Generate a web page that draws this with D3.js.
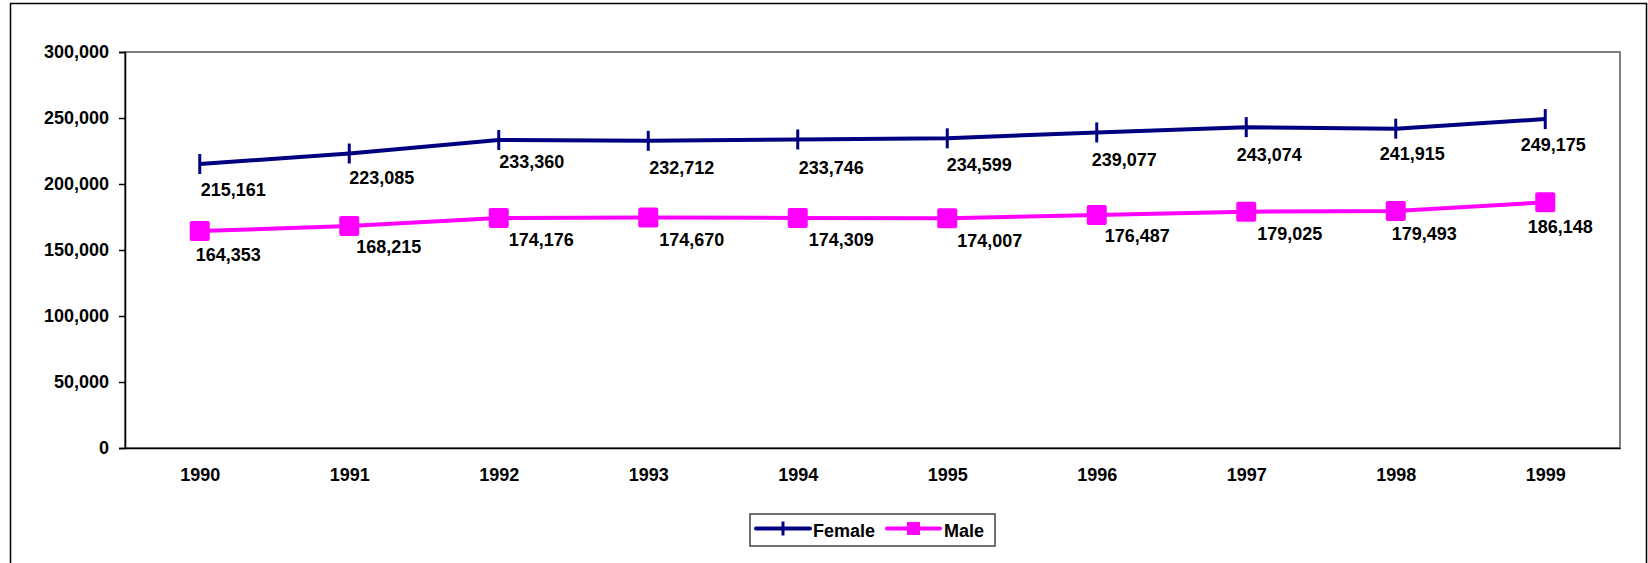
<!DOCTYPE html>
<html>
<head>
<meta charset="utf-8">
<script src="https://cdn.jsdelivr.net/npm/d3@7"></script>
<style>
  html, body { margin: 0; padding: 0; background: #fff; }
  svg { display: block; }
  text { font-family: "Liberation Sans", Arial, sans-serif; font-weight: bold; fill: #000; }
</style>
</head>
<body>
<script>
// ---- data ----
const years = ["1990","1991","1992","1993","1994","1995","1996","1997","1998","1999"];
const female = [215161, 223085, 233360, 232712, 233746, 234599, 239077, 243074, 241915, 249175];
const male = [164353, 168215, 174176, 174670, 174309, 174007, 176487, 179025, 179493, 186148];
const yTicks = [0, 50000, 100000, 150000, 200000, 250000, 300000];
const seriesNames = ["Female", "Male"];

// ---- layout (label nudges, as placed in the original) ----
const femaleLabelDx = [1, 0, 0.5, 1, 1, -0.5, -5, -9.5, -16, -24.5];
const femaleLabelDy = [26, 24.5, 22, 26.5, 28, 26.5, 27.5, 28, 25, 26];
const maleLabelDx = [-4, 7, 10, 11, 11, 10, 8, 11, -4, -17.5];
const maleLabelDy = [24, 21, 22, 22.5, 22, 22.5, 21, 22, 23, 24];

const W = 1648, H = 563;
const plot = { left: 125, right: 1620, top: 52, bottom: 448 };
const colFemale = "#000080", colMale = "#FF00FF";
const FS = 18;

const svg = d3.select("body").append("svg").attr("width", W).attr("height", H);

// outer border
svg.append("rect").attr("x", 10.5).attr("y", 3.5).attr("width", 1636).attr("height", 600)
  .attr("fill", "#fff").attr("stroke", "#000").attr("stroke-width", 1.5);

const x = d3.scalePoint().domain(years).range([plot.left, plot.right]).padding(0.5);
const y = d3.scaleLinear().domain([0, 300000]).range([plot.bottom, plot.top]);

// plot area frame
svg.append("rect").attr("x", plot.left).attr("y", plot.top)
  .attr("width", plot.right - plot.left).attr("height", plot.bottom - plot.top)
  .attr("fill", "#fff").attr("stroke", "#808080").attr("stroke-width", 2);

// y axis
const fmt = d3.format(",");
const yAxis = d3.axisLeft(y).tickValues(yTicks).tickFormat(fmt).tickSize(6).tickPadding(10);
const gy = svg.append("g").attr("transform", `translate(${plot.left},0)`).call(yAxis);
gy.select(".domain").attr("stroke", "#000").attr("stroke-width", 1.5);
gy.selectAll(".tick line").attr("stroke", "#000").attr("stroke-width", 1.5);
gy.selectAll(".tick text").attr("font-size", FS).attr("font-family", "Liberation Sans, Arial, sans-serif").attr("font-weight", "bold").attr("fill", "#000");

// x axis
const xAxis = d3.axisBottom(x).tickSize(0).tickPadding(20);
const gx = svg.append("g").attr("transform", `translate(0,${plot.bottom})`).call(xAxis);
gx.select(".domain").attr("stroke", "#000").attr("stroke-width", 1.5);
gx.selectAll(".tick text").attr("font-size", FS).attr("font-family", "Liberation Sans, Arial, sans-serif").attr("font-weight", "bold").attr("fill", "#000");

const line = d3.line().x((d, i) => x(years[i])).y(d => y(d));

// Female
svg.append("path").datum(female).attr("d", line).attr("fill", "none")
  .attr("stroke", colFemale).attr("stroke-width", 4).attr("stroke-linejoin", "round");
svg.append("g").selectAll("line").data(female).join("line")
  .attr("x1", (d, i) => x(years[i])).attr("x2", (d, i) => x(years[i]))
  .attr("y1", d => y(d) - 10).attr("y2", d => y(d) + 10)
  .attr("stroke", colFemale).attr("stroke-width", 3);

// Male
svg.append("path").datum(male).attr("d", line).attr("fill", "none")
  .attr("stroke", colMale).attr("stroke-width", 4).attr("stroke-linejoin", "round");
svg.append("g").selectAll("rect").data(male).join("rect")
  .attr("x", (d, i) => x(years[i]) - 10).attr("y", d => y(d) - 10)
  .attr("width", 20).attr("height", 20).attr("rx", 2)
  .attr("fill", colMale);

// data labels
svg.append("g").selectAll("text").data(female).join("text")
  .attr("x", (d, i) => x(years[i]) + femaleLabelDx[i])
  .attr("y", (d, i) => y(d) + femaleLabelDy[i])
  .attr("dy", "0.35em").attr("font-size", FS).text(d => fmt(d));
svg.append("g").selectAll("text").data(male).join("text")
  .attr("x", (d, i) => x(years[i]) + maleLabelDx[i])
  .attr("y", (d, i) => y(d) + maleLabelDy[i])
  .attr("dy", "0.35em").attr("font-size", FS).text(d => fmt(d));

// legend
const lg = svg.append("g");
lg.append("rect").attr("x", 750).attr("y", 514).attr("width", 245).attr("height", 32)
  .attr("fill", "#fff").attr("stroke", "#404040").attr("stroke-width", 1.5);
const ly = 528.5;
// Female
lg.append("line").attr("x1", 756).attr("x2", 810).attr("y1", ly).attr("y2", ly)
  .attr("stroke", colFemale).attr("stroke-width", 4).attr("stroke-linecap", "round");
lg.append("line").attr("x1", 783).attr("x2", 783).attr("y1", ly - 7).attr("y2", ly + 7)
  .attr("stroke", colFemale).attr("stroke-width", 3);
lg.append("text").attr("x", 813).attr("y", ly + 2).attr("dy", "0.35em").attr("font-size", FS).text(seriesNames[0]);
// Male
lg.append("line").attr("x1", 887).attr("x2", 940).attr("y1", ly).attr("y2", ly)
  .attr("stroke", colMale).attr("stroke-width", 4).attr("stroke-linecap", "round");
lg.append("rect").attr("x", 907).attr("y", ly - 6.5).attr("width", 13).attr("height", 13)
  .attr("fill", colMale);
lg.append("text").attr("x", 944).attr("y", ly + 2).attr("dy", "0.35em").attr("font-size", FS).text(seriesNames[1]);
</script>
</body>
</html>
